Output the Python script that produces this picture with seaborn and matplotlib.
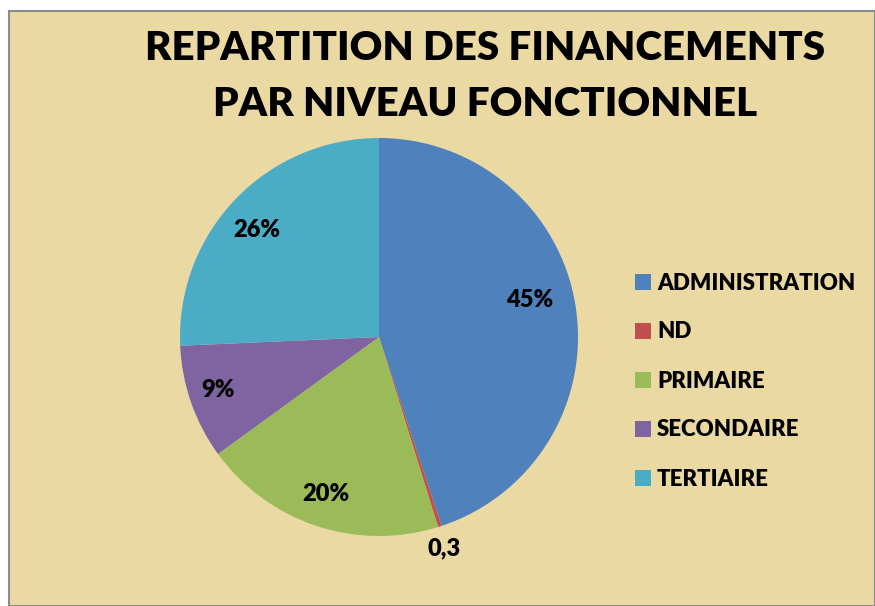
import numpy as np
import matplotlib
matplotlib.use("Agg")
import matplotlib.pyplot as plt
from matplotlib.patches import Rectangle
import seaborn as sns

categories = ["ADMINISTRATION", "ND", "PRIMAIRE", "SECONDAIRE", "TERTIAIRE"]
values = [44.9, 0.3, 19.8, 9.3, 25.7]
value_labels = ["45%", "0,3", "20%", "9%", "26%"]
colors = ["#4F81BD", "#C0504D", "#9BBB59", "#8064A2", "#4BACC6"]
title_lines = ["REPARTITION DES FINANCEMENTS", "PAR NIVEAU FONCTIONNEL"]
# label positions relative to the pie centre, in units of radius
label_pos = [(0.759, 0.186), (0.325, -1.062), (-0.269, -0.789),
             (-0.811, -0.266), (-0.613, 0.538)]

sns.set_theme(style="white")
plt.rcParams['font.family'] = ['Lato', 'DejaVu Sans']
palette = sns.color_palette(colors)
WEIGHT = "heavy"

W, H = 875, 606
fig = plt.figure(figsize=(W / 100, H / 100), dpi=100, facecolor="white")

# background panel
bg = fig.add_axes([0, 0, 1, 1])
bg.set_xlim(0, W)
bg.set_ylim(H, 0)
bg.axis("off")
bg.add_patch(Rectangle((9, 11), W - 9, H - 11, facecolor="#EBD9A3",
                       edgecolor="#8C8C8C", linewidth=1.5))

bg.text(485, 48, title_lines[0], ha="center", va="center",
        fontsize=29, fontweight=WEIGHT, color="black")
bg.text(485, 105, title_lines[1], ha="center", va="center",
        fontsize=29, fontweight=WEIGHT, color="black")

# pie
cx, cy, r = 379, 337, 199
ax = fig.add_axes([(cx - r) / W, (H - cy - r) / H, 2 * r / W, 2 * r / H])
wedges, texts, autotexts = ax.pie(values, colors=palette, startangle=90,
                                  counterclock=False, autopct="%1.0f%%",
                                  pctdistance=0.81, radius=1.0,
                                  wedgeprops=dict(linewidth=0))
ax.set_xlim(-1, 1)
ax.set_ylim(-1, 1)
ax.set_aspect("equal")
for t, lab, pos in zip(autotexts, value_labels, label_pos):
    t.set_text(lab)
    t.set_position(pos)
    t.set_fontsize(17)
    t.set_fontweight(WEIGHT)
    t.set_color("black")

leg = fig.legend(wedges, categories, loc="center left",
                 bbox_to_anchor=(635 / W, 1 - 381 / H), frameon=False,
                 borderpad=0, borderaxespad=0,
                 prop=dict(size=16, weight=WEIGHT), handlelength=0.72,
                 handleheight=0.72, handletextpad=0.27, labelspacing=1.26)
for t in leg.get_texts():
    t.set_color("black")

fig.savefig("out.png", dpi=100, facecolor=fig.get_facecolor())
